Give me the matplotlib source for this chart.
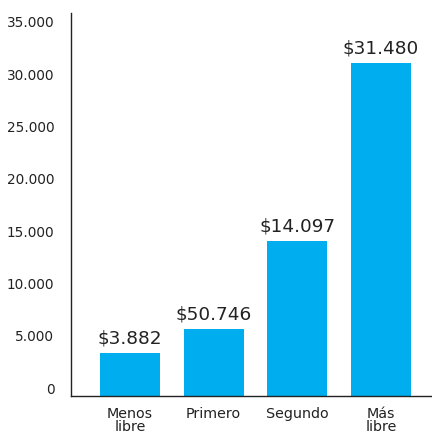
import matplotlib
matplotlib.use('Agg')
import matplotlib.pyplot as plt
import matplotlib.transforms as mtransforms

categorias = ['Menos\nlibre', 'Primero', 'Segundo', 'Más\nlibre']
valores = [4140, 6400, 14850, 31870]
etiquetas = ['$3.882', '$50.746', '$14.097', '$31.480']
ticks = [0, 5000, 10000, 15000, 20000, 25000, 30000, 35000]
tick_labels = ['0', '5.000', '10.000', '15.000', '20.000', '25.000', '30.000', '35.000']

color_barra = '#00AEEF'
color_texto = '#222222'

fig = plt.figure(figsize=(4.32, 4.34), dpi=100)
ax = fig.add_axes([71 / 432, 38 / 434, 1 - 71 / 432, 383 / 434])

x = list(range(len(categorias)))
barras = ax.bar(x, valores, width=0.717, color=color_barra)

for b, txt in zip(barras, etiquetas):
    ax.annotate(txt, (b.get_x() + b.get_width() / 2, b.get_height()),
                xytext=(0, 4), textcoords='offset points',
                ha='center', va='bottom', fontsize=13.3, color=color_texto)

ax.set_xlim(-0.705, 3.61)
ax.set_ylim(0, 36616)
ax.set_yticks(ticks)
ax.set_yticklabels(tick_labels, fontsize=9.8, color=color_texto)
ax.set_xticks(x)
ax.set_xticklabels(categorias, fontsize=10.3, color=color_texto, linespacing=0.9)
ax.tick_params(axis='both', length=0)
ax.tick_params(axis='y', pad=12)
ax.tick_params(axis='x', pad=8)

# las etiquetas del eje y quedan un poco por encima de la marca
desplaza = mtransforms.ScaledTranslation(0, 8 / 100, fig.dpi_scale_trans)
for lab in ax.get_yticklabels():
    lab.set_transform(lab.get_transform() + desplaza)

for s in ['top', 'right']:
    ax.spines[s].set_visible(False)
ax.spines['left'].set_color('#222222')
ax.spines['bottom'].set_color('#222222')
ax.spines['left'].set_linewidth(1)
ax.spines['bottom'].set_linewidth(1)

fig.savefig('out.png', dpi=100)
